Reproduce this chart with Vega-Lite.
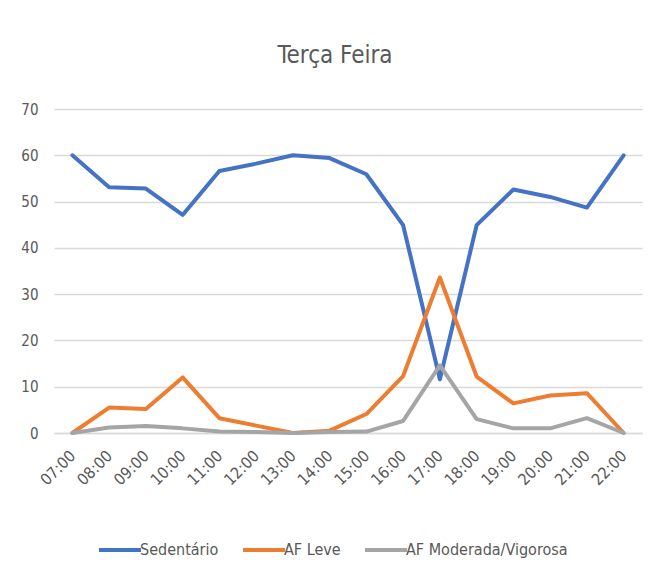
{
  "$schema": "https://vega.github.io/schema/vega-lite/v6.json",
  "autosize": "none",
  "width": 588,
  "height": 324,
  "padding": {"left": 54, "top": 109, "right": 16, "bottom": 151},
  "background": "white",
  "title": {"text": "Terça Feira", "fontSize": 24, "fontWeight": "normal", "color": "#595959", "font": "DejaVu Sans Condensed, Roboto, sans-serif", "offset": 34, "anchor": "middle", "dx": -13},
  "config": {
    "view": {"stroke": null},
    "font": "DejaVu Sans Condensed, Roboto, sans-serif"
  },
  "data": {"values": [
    {"hora": "07:00", "serie": "Sedentário", "valor": 60},
    {"hora": "08:00", "serie": "Sedentário", "valor": 53.1},
    {"hora": "09:00", "serie": "Sedentário", "valor": 52.8},
    {"hora": "10:00", "serie": "Sedentário", "valor": 47.1},
    {"hora": "11:00", "serie": "Sedentário", "valor": 56.6},
    {"hora": "12:00", "serie": "Sedentário", "valor": 58.2},
    {"hora": "13:00", "serie": "Sedentário", "valor": 60},
    {"hora": "14:00", "serie": "Sedentário", "valor": 59.4},
    {"hora": "15:00", "serie": "Sedentário", "valor": 55.9},
    {"hora": "16:00", "serie": "Sedentário", "valor": 44.9},
    {"hora": "17:00", "serie": "Sedentário", "valor": 11.6},
    {"hora": "18:00", "serie": "Sedentário", "valor": 44.9},
    {"hora": "19:00", "serie": "Sedentário", "valor": 52.6},
    {"hora": "20:00", "serie": "Sedentário", "valor": 51},
    {"hora": "21:00", "serie": "Sedentário", "valor": 48.7},
    {"hora": "22:00", "serie": "Sedentário", "valor": 60},
    {"hora": "07:00", "serie": "AF Leve", "valor": 0},
    {"hora": "08:00", "serie": "AF Leve", "valor": 5.5},
    {"hora": "09:00", "serie": "AF Leve", "valor": 5.2},
    {"hora": "10:00", "serie": "AF Leve", "valor": 12},
    {"hora": "11:00", "serie": "AF Leve", "valor": 3.2},
    {"hora": "12:00", "serie": "AF Leve", "valor": 1.6},
    {"hora": "13:00", "serie": "AF Leve", "valor": 0},
    {"hora": "14:00", "serie": "AF Leve", "valor": 0.5},
    {"hora": "15:00", "serie": "AF Leve", "valor": 4.1},
    {"hora": "16:00", "serie": "AF Leve", "valor": 12.3},
    {"hora": "17:00", "serie": "AF Leve", "valor": 33.6},
    {"hora": "18:00", "serie": "AF Leve", "valor": 12.2},
    {"hora": "19:00", "serie": "AF Leve", "valor": 6.4},
    {"hora": "20:00", "serie": "AF Leve", "valor": 8.1},
    {"hora": "21:00", "serie": "AF Leve", "valor": 8.6},
    {"hora": "22:00", "serie": "AF Leve", "valor": 0},
    {"hora": "07:00", "serie": "AF Moderada/Vigorosa", "valor": 0},
    {"hora": "08:00", "serie": "AF Moderada/Vigorosa", "valor": 1.2},
    {"hora": "09:00", "serie": "AF Moderada/Vigorosa", "valor": 1.5},
    {"hora": "10:00", "serie": "AF Moderada/Vigorosa", "valor": 1.0},
    {"hora": "11:00", "serie": "AF Moderada/Vigorosa", "valor": 0.3},
    {"hora": "12:00", "serie": "AF Moderada/Vigorosa", "valor": 0.2},
    {"hora": "13:00", "serie": "AF Moderada/Vigorosa", "valor": 0},
    {"hora": "14:00", "serie": "AF Moderada/Vigorosa", "valor": 0.2},
    {"hora": "15:00", "serie": "AF Moderada/Vigorosa", "valor": 0.3},
    {"hora": "16:00", "serie": "AF Moderada/Vigorosa", "valor": 2.6},
    {"hora": "17:00", "serie": "AF Moderada/Vigorosa", "valor": 14.6},
    {"hora": "18:00", "serie": "AF Moderada/Vigorosa", "valor": 3.0},
    {"hora": "19:00", "serie": "AF Moderada/Vigorosa", "valor": 1.0},
    {"hora": "20:00", "serie": "AF Moderada/Vigorosa", "valor": 1.0},
    {"hora": "21:00", "serie": "AF Moderada/Vigorosa", "valor": 3.2},
    {"hora": "22:00", "serie": "AF Moderada/Vigorosa", "valor": 0}
  ]},
  "mark": {"type": "line", "strokeWidth": 4, "strokeJoin": "round", "strokeCap": "round"},
  "encoding": {
    "x": {
      "field": "hora", "type": "ordinal",
      "scale": {"type": "point", "padding": 0.5},
      "axis": {
        "title": null, "labelAngle": -45, "labelFontSize": 16, "labelColor": "#595959",
        "ticks": false, "domainColor": "#D9D9D9", "domainWidth": 1.5, "labelPadding": 20,
        "labelAlign": "right", "labelBaseline": "middle"
      }
    },
    "y": {
      "field": "valor", "type": "quantitative",
      "scale": {"domain": [0, 70], "nice": false},
      "axis": {
        "title": null, "values": [0, 10, 20, 30, 40, 50, 60, 70], "labelFontSize": 15, "labelColor": "#595959",
        "ticks": false, "domain": false, "gridColor": "#D9D9D9", "gridWidth": 1.5, "labelPadding": 16
      }
    },
    "color": {
      "field": "serie", "type": "nominal",
      "scale": {"domain": ["Sedentário", "AF Leve", "AF Moderada/Vigorosa"], "range": ["#4472C4", "#ED7D31", "#A5A5A5"]},
      "legend": {
        "title": null, "orient": "none", "direction": "horizontal", "legendX": 43, "legendY": 418,
        "symbolType": "stroke", "symbolSize": 1764, "symbolStrokeWidth": 4, "labelFontSize": 16,
        "labelColor": "#595959", "labelOffset": -3, "columnPadding": 16, "labelLimit": 300
      }
    }
  }
}
